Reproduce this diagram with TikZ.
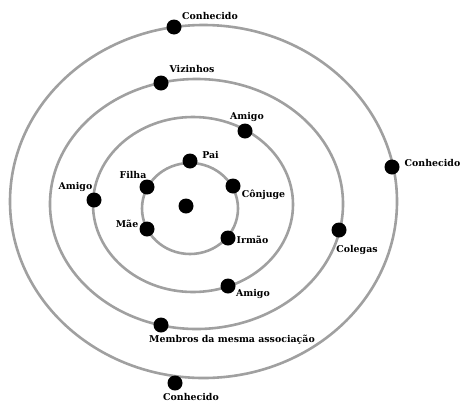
\documentclass[tikz,border=0pt]{standalone}
\usepackage{fontspec}
\setmainfont{DejaVu Serif}
\definecolor{cinzaanel}{RGB}{160,160,160}
\begin{document}
\begin{tikzpicture}[x=1pt,y=-1pt,
    bolinha/.style={circle,fill=black,inner sep=0pt,minimum size=15pt},
    anel/.style={draw=cinzaanel,line width=2.6pt},
    rotulo/.style={font=\bfseries\fontsize{9.4}{11}\selectfont,inner sep=0pt}]
    \useasboundingbox (0,0) rectangle (460,402);
    % quattro anelli concentrici
    \draw[anel] (190,208.5) ellipse [x radius=48,y radius=45.5];
    \draw[anel] (193,204.5) ellipse [x radius=100,y radius=87.5];
    \draw[anel] (196.5,204) ellipse [x radius=146.5,y radius=125];
    \draw[anel] (203.5,201.5) ellipse [x radius=193.5,y radius=176.5];

    % pallini neri sugli anelli
    \node[bolinha] (eu) at (186,206) {};
    \foreach \nome/\px/\py in {pai/190/161, filha/147/187, conjuge/233/186,
        mae/147/229, irmao/228/238, amigoa/245/131, amigob/94/200,
        amigoc/228/286, vizinhos/161/83, colegas/339/230, membros/161/325,
        conha/174/27, conhb/392/167, conhc/175/383} {
        \node[bolinha] (\nome) at (\px,\py) {};
    }

    % etichette
    \foreach \nome/\tx/\ty/\testo in {pai/210.5/155/Pai, filha/133/175/Filha,
        conjuge/263.5/195/Cônjuge, mae/127/224/Mãe, irmao/252.5/240/Irmão,
        amigoa/247/117/Amigo, amigob/75.5/187/Amigo, amigoc/253/294/Amigo,
        vizinhos/192/69/Vizinhos, colegas/357/250/Colegas,
        membros/232/340/Membros da mesma associação,
        conha/210/15.5/Conhecido, conhb/432.5/163/Conhecido, conhc/191/397/Conhecido} {
        \node[rotulo] (l\nome) at (\tx,\ty) {\testo};
    }
\end{tikzpicture}
\end{document}
